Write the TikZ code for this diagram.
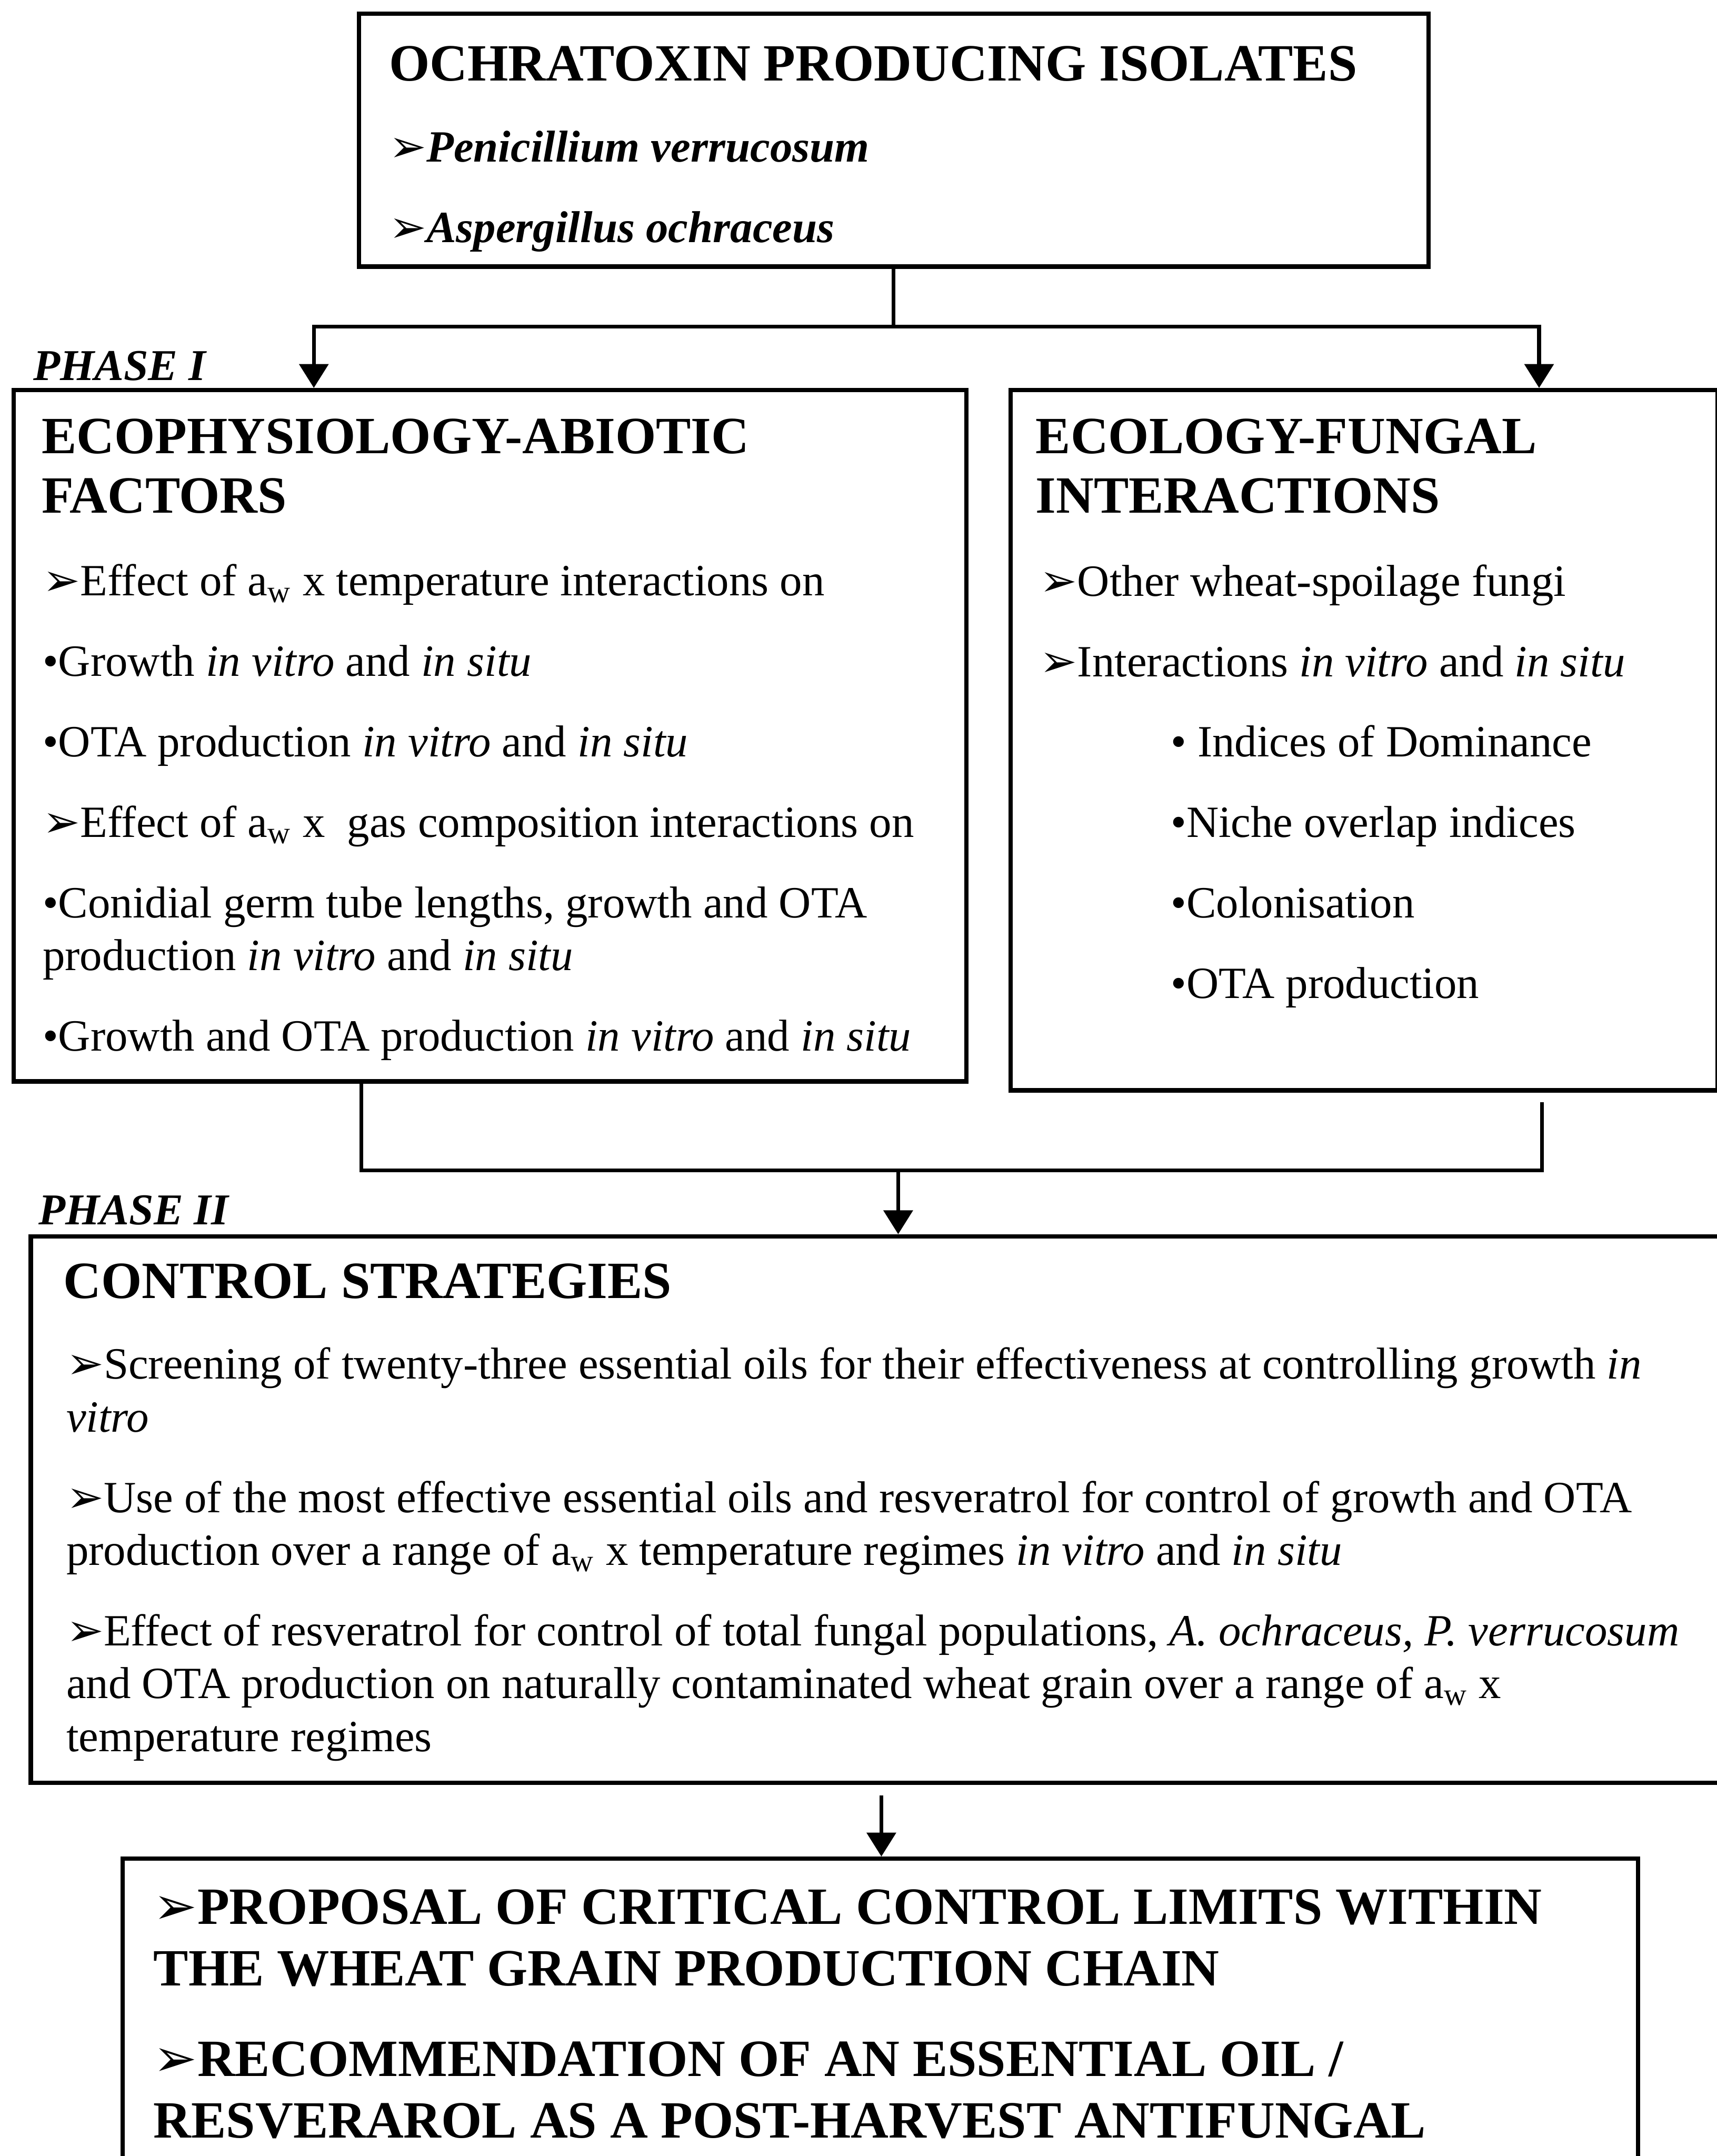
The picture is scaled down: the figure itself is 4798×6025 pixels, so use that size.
\documentclass[tikz,border=0pt]{standalone}
\usepackage{fontspec}
\setmainfont{Liberation Serif}
\newfontfamily\symfont{DejaVu Sans}
\usetikzlibrary{arrows.meta}
\usetikzlibrary{calc}
\usetikzlibrary{fit}

\newcommand{\pointer}{{\symfont\mdseries\upshape ➢}}
\newcommand{\aw}{a\textsubscript{w}}

\begin{document}
\begin{tikzpicture}[x=0.05mm,y=-0.05mm,
  box/.style={draw,line width=1.7pt,inner sep=0pt},
  head/.style={anchor=base west,align=left,inner sep=0pt,font=\fontsize{20.8}{23.5}\selectfont\bfseries},
  body/.style={anchor=base west,align=left,inner sep=0pt,font=\fontsize{17.75}{21}\selectfont},
  phase/.style={anchor=base west,inner sep=0pt,font=\fontsize{17.5}{21}\selectfont\bfseries\itshape},
  link/.style={line width=1.5pt},
  arr/.style={link,-{Triangle[length=9.5pt,width=11.5pt]}}]
 \useasboundingbox (0,0) rectangle (4798,6025);

 % boxes
 \node[box,fit={(1003,38) (3992,745)}] (isolates) {};
 \node[box,fit={(38,1090) (2700,3022)}] (abiotic) {};
 \node[box,fit={(2824,1090) (4800,3047)}] (fungal) {};
 \node[box,fit={(86,3455) (4810,4982)}] (control) {};
 \node[box,fit={(343,5194) (4578,6100)}] (proposal) {};

 % phase labels
 \node[phase] (phase1) at (92,1063) {PHASE I};
 \node[phase] (phase2) at (107,3422) {PHASE II};

 % top box
 \node[head] (isolates-head) at (1086,226) {OCHRATOXIN PRODUCING ISOLATES};
 \node[body,font=\fontsize{17.75}{32}\selectfont\bfseries\itshape] (isolates-list) at (1086,677)
  {\pointer Penicillium verrucosum\\\pointer Aspergillus ochraceus};

 % phase I
 \node[head] (abiotic-head) at (115,1433) {ECOPHYSIOLOGY-ABIOTIC\\FACTORS};
 \node[body] (abiotic-list) at (118,2937)
  {\pointer Effect of \aw{} x temperature interactions on\\[11pt]
   •Growth \textit{in vitro} and \textit{in situ}\\[11pt]
   •OTA production \textit{in vitro} and \textit{in situ}\\[11pt]
   \pointer Effect of \aw{} x~ gas composition interactions on\\[11pt]
   •Conidial germ tube lengths, growth and OTA\\
   production \textit{in vitro} and \textit{in situ}\\[11pt]
   •Growth and OTA production \textit{in vitro} and \textit{in situ}};

 \node[head] (fungal-head) at (2893,1433) {ECOLOGY-FUNGAL\\INTERACTIONS};
 \node[body] (fungal-list) at (2905,2790)
  {\pointer Other wheat-spoilage fungi\\[11pt]
   \pointer Interactions \textit{in vitro} and \textit{in situ}\\[11pt]
   \hspace*{52pt}• Indices of Dominance\\[11pt]
   \hspace*{52pt}•Niche overlap indices\\[11pt]
   \hspace*{52pt}•Colonisation\\[11pt]
   \hspace*{52pt}•OTA production};

 % phase II
 \node[head] (control-head) at (176,3628) {CONTROL STRATEGIES};
 \node[body] (control-list) at (184,4894)
  {\pointer Screening of twenty-three essential oils for their effectiveness at controlling growth \textit{in}\\
   \textit{vitro}\\[11pt]
   \pointer Use of the most effective essential oils and resveratrol for control of growth and OTA\\
   production over a range of \aw{} x temperature regimes \textit{in vitro} and \textit{in situ}\\[11pt]
   \pointer Effect of resveratrol for control of total fungal populations, \textit{A. ochraceus, P. verrucosum}\\
   and OTA production on naturally contaminated wheat grain over a range of \aw{} x\\
   temperature regimes};

 \node[head,font=\fontsize{20.8}{24.5}\selectfont\bfseries] (proposal-text) at (428,5974)
  {\pointer PROPOSAL OF CRITICAL CONTROL LIMITS WITHIN\\
   THE WHEAT GRAIN PRODUCTION CHAIN\\[11.5pt]
   \pointer RECOMMENDATION OF AN ESSENTIAL OIL /\\
   RESVERAROL AS A POST-HARVEST ANTIFUNGAL};

 % connectors
 \coordinate (split) at ($(isolates.south)+(0,162)$);
 \draw[link] (isolates.south) -- (split);
 \draw[arr] (split) -| ($(abiotic.north west)+(845,0)$);
 \draw[arr] (split) -| ($(fungal.north west)+(1483,0)$);

 \coordinate (merge) at (2510,3270);
 \draw[link] ($(abiotic.south west)+(978,0)$) |- (merge) -| ($(fungal.south west)+(1491,27)$);
 \draw[arr] (merge) -- (merge |- control.north);

 \coordinate (gap) at ($(control.south)+(15,29)$);
 \draw[arr] (gap) -- (gap |- proposal.north);
\end{tikzpicture}
\end{document}
